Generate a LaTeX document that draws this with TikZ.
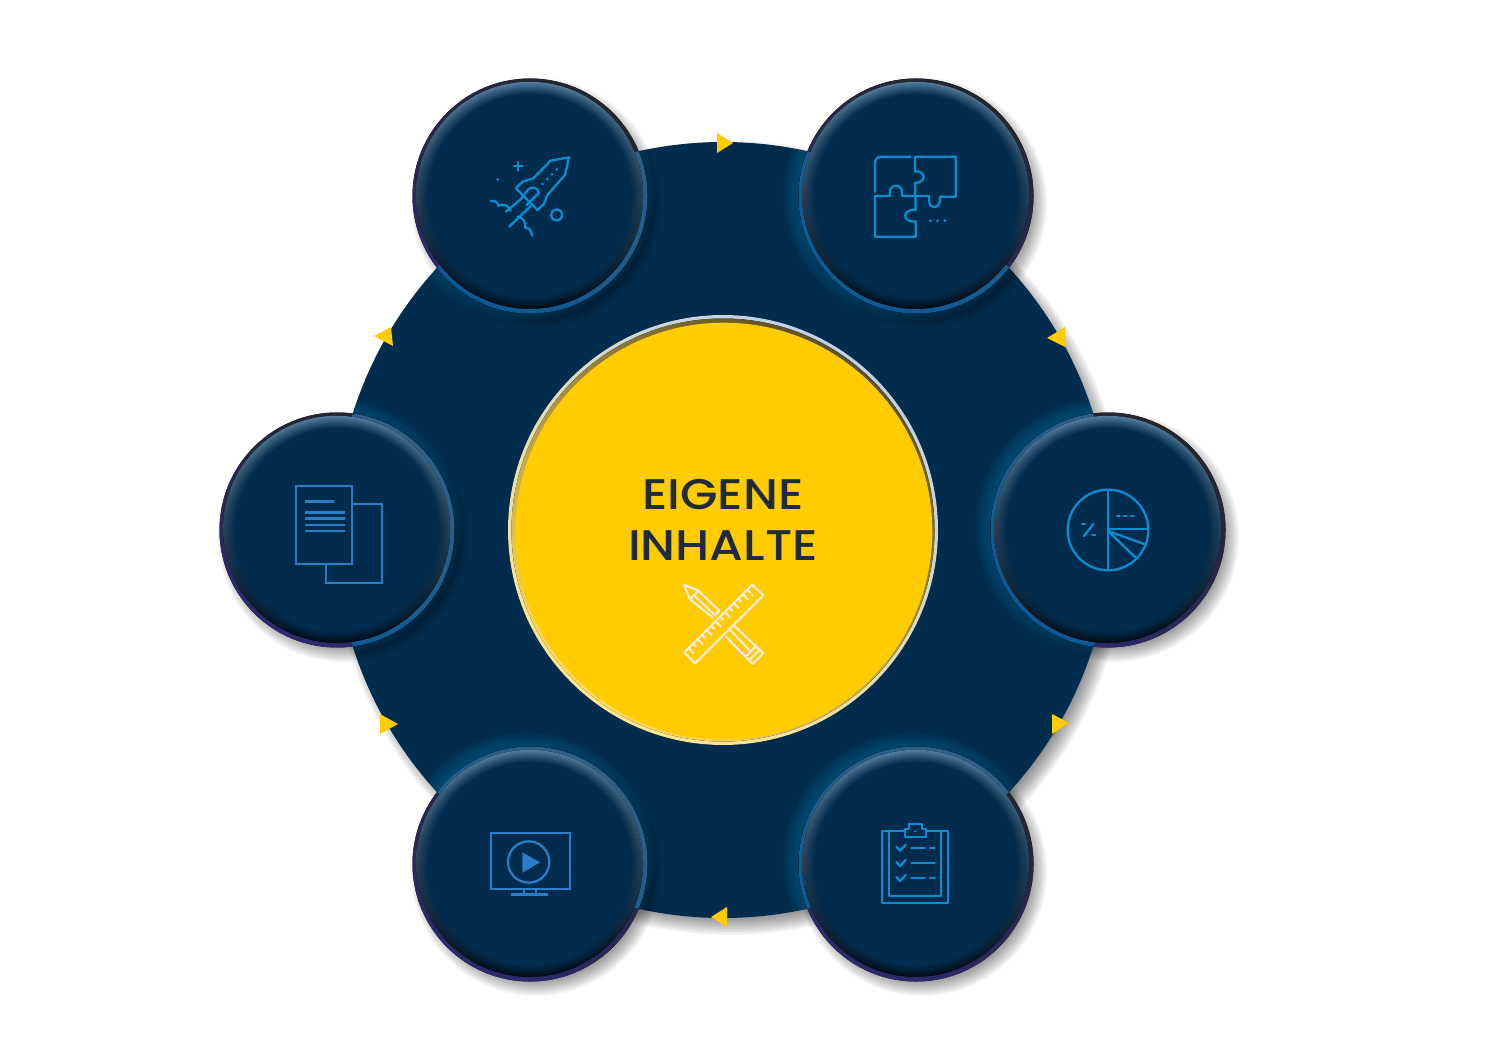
\documentclass[tikz,border=0pt]{standalone}
\usepackage{fontspec}
\newfontfamily\titlefont[FakeStretch=1.13]{Poppins Medium}
\usetikzlibrary{calc,fadings}
\definecolor{facenavy}{HTML}{012C4E}
\definecolor{bevellight}{HTML}{56809F}
\definecolor{beveldark}{HTML}{000810}
\definecolor{rimdark}{HTML}{25252E}
\definecolor{rimpurple}{HTML}{2C2A6E}
\definecolor{rimsoft}{HTML}{2F6088}
\definecolor{rimblue}{HTML}{0A5A96}
\definecolor{glowteal}{HTML}{0A6A96}
\definecolor{iconcyan}{HTML}{0C8DD2}
\definecolor{iconblue}{HTML}{2A7DC6}
\definecolor{sunyellow}{HTML}{FFCC00}
\definecolor{rimpale}{HTML}{BDD3EC}
\definecolor{rimcream}{HTML}{FDE68E}
\definecolor{innershade}{HTML}{5E5024}
\definecolor{innerlight}{HTML}{FFDC60}
\definecolor{titleink}{HTML}{1F2A3C}
\definecolor{crossink}{HTML}{FBEBE0}
\pgfdeclareradialshading{bevelmask}{\pgfpointorigin}{color(0bp)=(white); color(22.2bp)=(white); color(25bp)=(black); color(50bp)=(black)}
\pgfdeclarefading{bevelfade}{\pgfuseshading{bevelmask}}
\tikzset{
	softshadow/.style={black,opacity=0.04},
	softglow/.style={glowteal,opacity=0.05},
	iconcy/.style={draw=iconcyan,line width=1.3pt,line cap=round,line join=round},
	iconbl/.style={draw=iconblue,line width=1.3pt,line join=miter},
	crossline/.style={draw=crossink,line width=1.2pt,line join=round,line cap=round},
	marker/.style={fill=sunyellow},
}
\begin{document}
\begin{tikzpicture}[x=0.02cm,y=-0.02cm]
	\useasboundingbox (0,0) rectangle (1500,1060);
	\fill[white] (0,0) rectangle (1500,1060);
	\coordinate (hub) at (723,530);
	%BIG DISC
	\foreach \i in {0,...,12}
		\fill[softshadow] ($(hub)+(7,8)$) circle[radius={388+9-1.5*\i}];
	\fill[facenavy] (hub) circle[radius=388];
	%MARKERS
	\fill[marker] (717,133) -- (733,143) -- (717,153) -- cycle;
	\fill[marker] (1047,338) -- (1065,327) -- (1065,347) -- cycle;
	\fill[marker] (1052,714) -- (1069,723) -- (1052,734) -- cycle;
	\fill[marker] (711,917) -- (727,907) -- (727,927) -- cycle;
	\fill[marker] (380,714) -- (398,724) -- (380,734) -- cycle;
	\fill[marker] (374,336) -- (391,327) -- (393,346) -- cycle;
	%SATELLITES
	\foreach \sat/\px/\py in {rocket/530/196,puzzle/916/196,chart/1108/530,checklist/916/864,screen/530/864,pages/337/530}{
		\coordinate (\sat) at (\px,\py);
		\foreach \i in {0,...,12}
			\fill[softshadow] ($(\sat)+(6,7)$) circle[radius={117+8-1.5*\i}];
		\begin{scope}
			\clip (hub) circle[radius=388];
			\foreach \i in {0,...,13}
				\fill[softglow] ($(\sat)+(-4,-3)$) circle[radius={117+12-1.2*\i}];
		\end{scope}
		\fill[shading=axis,top color=rimdark,bottom color=rimpurple,shading angle=-30] (\sat) circle[radius=117.5];
		\begin{scope}
			\clip (hub) circle[radius=388];
			\fill[shading=axis,top color=rimsoft,middle color=rimblue!85!rimsoft,bottom color=rimblue,shading angle=-35] (\sat) circle[radius=117.5];
		\end{scope}
		\fill[shading=axis,top color=bevellight,middle color=facenavy,bottom color=beveldark] ($(\sat)+(-0.4,-0.7)$) circle[radius=113.5];
		\fill[facenavy,path fading=bevelfade] ($(\sat)+(-0.4,-0.7)$) circle[radius=113.5];
	}
	%YELLOW CENTRE
	\fill[shading=axis,top color=rimpale,middle color=rimcream!55!rimpale,bottom color=rimcream,shading angle=-35] (hub) circle[radius=215];
	\fill[shading=axis,top color=innershade,middle color=sunyellow!70!innershade,bottom color=innerlight,shading angle=-35] (hub) circle[radius=211.5];
	\fill[sunyellow] ($(hub)+(0.8,1.2)$) circle[radius=208.5];
	\node[text=titleink,align=center,inner sep=0pt,font=\titlefont\fontsize{24.4}{29}\selectfont] (title) at (723,520) {EIGENE\\INHALTE};
	%ROCKET
	\begin{scope}[shift={(400,60)},scale=1/3]
		\draw[iconcy] (507,292) -- (452,302) -- (400,355) -- (368,365) -- (348,385) -- (412,450) -- (432,432) -- (442,405) -- (495,345) -- cycle;
		\draw[iconcy] (362,418) -- (385,388) .. controls (395,378) and (412,382) .. (417,398) -- (380,435);
		\draw[iconcy] (318,455) -- (362,418);
		\draw[iconcy] (328,500) -- (398,432);
		\draw[iconcy] (272,423) .. controls (285,420) and (293,428) .. (295,437) .. controls (310,430) and (328,438) .. (332,452);
		\draw[iconcy] (352,470) .. controls (368,472) and (378,485) .. (376,503) .. controls (388,503) and (396,515) .. (396,527);
		\draw[iconcy] (342,319) -- (368,319) (355,306) -- (355,332);
		\draw[iconcy] (470,465) circle[radius=17];
		\foreach \dotx/\doty in {428/372,442/357,456/343,470/328,293/358}
			\fill[iconcyan] (\dotx,\doty) circle[radius=4.5];
	\end{scope}
	%PUZZLE
	\begin{scope}[shift={(790,60)},scale=1/3]
		\draw[iconcy] (255,395) -- (255,310) .. controls (255,297) and (262,290) .. (275,290) -- (362,290);
		\draw[iconcy] (255,408) -- (300,408) -- (300,395) arc[start angle=180,end angle=360,radius=18] -- (336,408) -- (417,408) -- (417,425) arc[start angle=180,end angle=0,radius=16.5] -- (450,410) -- (497,410) -- (497,290) -- (375,290) -- (375,335) .. controls (400,328) and (418,365) .. (375,369) -- (377,450) .. controls (335,445) and (335,490) .. (377,484) -- (377,530) -- (255,530) -- cycle;
		\foreach \dotx in {421,442,464}
			\fill[iconcyan] (\dotx,482) circle[radius=4.5];
	\end{scope}
	%CHART
	\begin{scope}[shift={(980,400)},scale=1/3]
		\draw[iconcy] (384,390) circle[radius=121];
		\draw[iconcy] (384,270) -- (384,510);
		\draw[iconcy] (384,387) -- (503,387);
		\draw[iconcy] (384,393) -- (492,432);
		\draw[iconcy] (384,393) -- (466,472);
		\draw[iconcy] (312,408) -- (340,372);
		\draw[iconcy] (306,372) -- (315,372) (337,405) -- (346,405);
		\draw[iconcy] (411,348) -- (419,348) (432,348) -- (440,348) (453,348) -- (461,348);
	\end{scope}
	%CHECKLIST
	\begin{scope}[shift={(790,740)},scale=1/3]
		\draw[iconcy,line cap=butt] (344,272) -- (277,272) -- (277,489) -- (474,489) -- (474,272) -- (408,272);
		\draw[iconcy,line cap=butt] (298,272) -- (298,467) -- (453,467) -- (453,272);
		\draw[iconcy] (344,268) -- (356,268) -- (356,252) -- (396,252) -- (396,268) -- (408,268) -- (408,290) -- (344,290) -- cycle;
		\fill[iconcyan] (375,274) circle[radius=4];
		\foreach \rowy in {0,46,91}
			\draw[iconcy] (319,{320+\rowy}) -- (330,{332+\rowy}) -- (347,{314+\rowy});
		\draw[iconcy] (364,324) -- (404,324) (420,324) -- (434,324);
		\draw[iconcy] (364,370) -- (434,370);
		\draw[iconcy] (364,415) -- (404,415) (420,415) -- (434,415);
	\end{scope}
	%SCREEN
	\begin{scope}[shift={(400,740)},scale=1/3]
		\draw[iconbl] (274,278) rectangle (511,446);
		\draw[iconbl] (386,366) circle[radius=62];
		\fill[iconblue] (367,337) -- (420,367) -- (367,398) -- cycle;
		\draw[iconbl] (371,446) -- (371,462) (407,446) -- (407,462);
		\draw[iconbl,line width=1.9pt] (332,464) -- (444,464);
	\end{scope}
	%PAGES
	\begin{scope}[shift={(210,400)},scale=1/3]
		\draw[iconbl] (258,257) rectangle (426,492);
		\draw[iconbl] (426,313) -- (515,313) -- (515,548) -- (347,548) -- (347,492);
		\draw[iconbl,line width=1.5pt] (285,304) -- (373,304);
		\foreach \rowy in {338,356,375,393}
			\draw[iconbl,line width=1.5pt] (285,\rowy) -- (404,\rowy);
	\end{scope}
	%RULER AND PENCIL
	\begin{scope}[shift={(620,460)},scale=1/3]
		\draw[crossline] (397,374) -- (430,406) -- (225,610) -- (193,577) -- cycle;
		\fill[crossink] (397,406) circle[radius=4.5];
		\foreach \k in {1,...,14}{
			\pgfmathsetmacro{\ticklen}{mod(\k,2)==0?15:9}
			\draw[crossline] ({382-13.6*\k+13.6},{389+13.5*\k-13.5}) -- +(\ticklen,\ticklen);
		}
		\draw[crossline] (298,452) -- (235,392) -- (192,374) -- (210,418) -- (278,472) (285,465) -- (298,452);
		\draw[crossline] (210,418) -- (235,392);
		\draw[crossline] (222,406) -- (285,465);
		\draw[crossline] (340,495) -- (430,580) -- (398,612) -- (318,530);
		\draw[crossline] (330,510) -- (388,570);
		\draw[crossline] (408,558) -- (376,590) (419,569) -- (387,601);
	\end{scope}
\end{tikzpicture}
\end{document}
